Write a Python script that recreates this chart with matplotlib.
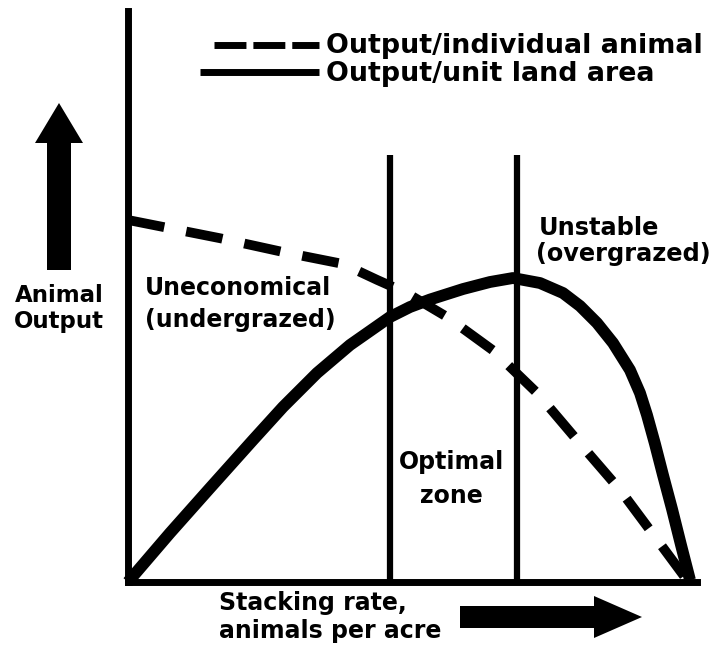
import matplotlib
matplotlib.use("Agg")
import matplotlib.pyplot as plt
from matplotlib.patches import FancyArrow

# stocking rate (0-100) vs animal output (0-100)
land_x = [0, 7.38, 14.41, 21.97, 27.24, 33.22, 39.02, 46.05, 49.56, 53.08,
          58.88, 63.62, 67.66, 72.41, 76.45, 79.44, 82.43, 85.24, 88.22,
          89.98, 91.21, 92.62, 94.02, 95.61, 97.19, 98.77]
land_y = [0, 8.58, 16.46, 24.87, 30.65, 36.60, 41.51, 46.41, 48.16, 49.47,
          51.31, 52.54, 53.24, 52.36, 50.61, 48.34, 45.36, 41.86, 37.13,
          33.10, 29.25, 24.17, 18.74, 12.78, 6.48, 0.35]

animal_x = [0, 16.2, 27.2, 37.8, 43.8, 49.0, 56.1, 64.1, 71.9, 79.4, 86.5, 93.0, 98.2]
animal_y = [63.4, 60.2, 57.8, 55.7, 52.9, 50.6, 46.4, 40.6, 33.1, 24.3, 16.1, 7.4, 0.4]

zone_bounds = [46.0, 68.4]
zone_top = 74.8

W, H = 714, 645
fig = plt.figure(figsize=(W / 100, H / 100), dpi=100)

ax = fig.add_axes([128 / W, (H - 582) / H, (697 - 128) / W, (582 - 11) / H])
ax.set_xlim(0, 100)
ax.set_ylim(0, 100)
ax.set_xticks([])
ax.set_yticks([])
for s in ["top", "right"]:
    ax.spines[s].set_visible(False)
for s in ["left", "bottom"]:
    ax.spines[s].set_linewidth(5)
    ax.spines[s].set_color("black")

ax.vlines(zone_bounds, 0, zone_top, color="black", lw=4.5)
ax.plot(animal_x, animal_y, color="black", lw=7, dashes=(3.8, 2.3),
        dash_capstyle="butt", clip_on=False)
ax.plot(land_x, land_y, color="black", lw=8.5, solid_capstyle="butt",
        solid_joinstyle="round", clip_on=False)

# overlay in pixel coordinates for legend, arrows and labels
ov = fig.add_axes([0, 0, 1, 1], facecolor="none")
ov.set_xlim(0, W)
ov.set_ylim(H, 0)
ov.axis("off")

ov.plot([214, 319], [45, 45], color="black", lw=5, dashes=(4.6, 1.0),
        dash_capstyle="butt")
ov.plot([200, 319], [72, 72], color="black", lw=5, solid_capstyle="butt")

ov.add_patch(FancyArrow(59, 270, 0, -167, width=24, head_width=48,
                        head_length=40, length_includes_head=True,
                        color="black", lw=0))
ov.add_patch(FancyArrow(460, 617, 182, 0, width=22, head_width=42,
                        head_length=48, length_includes_head=True,
                        color="black", lw=0))

labels = [
    ("Output/individual animal", 326, 53, "left", 19.4),
    ("Output/unit land area", 326, 81, "left", 19.4),
    ("Animal", 59, 302, "center", 16.5),
    ("Output", 59, 328, "center", 16.5),
    ("Uneconomical", 145, 295, "left", 17),
    ("(undergrazed)", 145, 327, "left", 17),
    ("Optimal", 451, 469, "center", 17),
    ("zone", 451, 503, "center", 17),
    ("Unstable", 539, 235, "left", 17.3),
    ("(overgrazed)", 536, 261, "left", 17.3),
    ("Stacking rate,", 219, 610, "left", 17),
    ("animals per acre", 219, 638, "left", 17),
]
for txt, x, y, ha, size in labels:
    ov.text(x, y, txt, ha=ha, va="baseline", fontsize=size,
            fontweight="bold", family="DejaVu Sans")

fig.savefig("out.png", dpi=100)
